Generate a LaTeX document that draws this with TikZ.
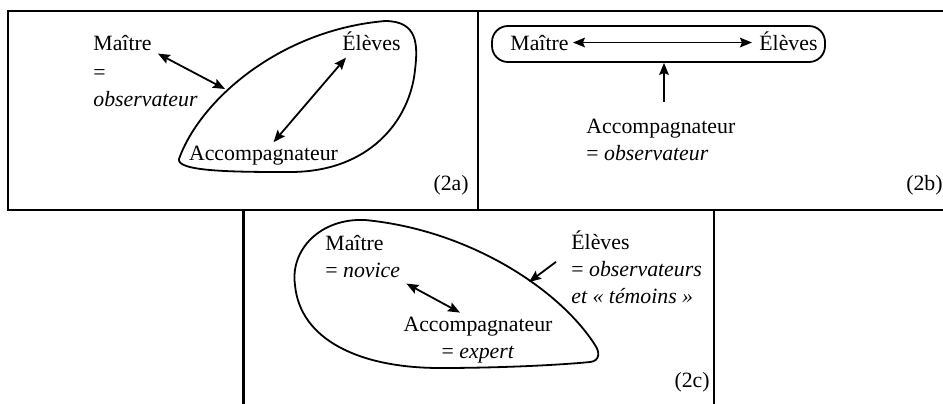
\documentclass[tikz,border=0pt]{standalone}
\usepackage{fontspec}
\setmainfont{Liberation Serif}
\usetikzlibrary{arrows.meta}

\begin{document}
\begin{tikzpicture}[
    x=0.5pt, y=-0.5pt,
    word/.style={inner sep=0pt, font=\fontsize{10.9}{13.5}\selectfont},
    frame/.style={draw, line width=1.1pt},
    blob/.style={draw, line width=0.9pt},
    arrow/.style={-{Stealth[length=6pt, width=4.8pt, inset=1pt]}, line width=0.9pt},
    biarrow/.style={{Stealth[length=6pt, width=4.8pt, inset=1pt]}-{Stealth[length=6pt, width=4.8pt, inset=1pt]}, line width=0.9pt}
]
    \useasboundingbox (0,0) rectangle (943,403);
    \clip (0,0) rectangle (943,403);

    % Frames
    \draw[frame] (8,11) rectangle (960,210);
    \draw[frame] (478,11) -- (478,210);
    \draw[frame] (243.5,210) rectangle (714,420);

    % Panel (2a)
    \draw[blob] (179,159) .. controls (200,100) and (280,30) .. (385,21)
        .. controls (418,21) and (418,45) .. (415,70)
        .. controls (410,120) and (370,172) .. (290,172)
        .. controls (240,172) and (176,172) .. (179,159) -- cycle;
    \node[word, anchor=base west] (maitreA) at (93,50) {Maître};
    \node[word, anchor=north west, align=left] (obsA) at (93,68.7) {=\\\textit{observateur}};
    \node[word, anchor=base west] (eleA) at (342,50) {Élèves};
    \node[word, anchor=base] (accA) at (263.5,160) {Accompagnateur};
    \node[word, anchor=base east] (tagA) at (469,190) {(2a)};
    \coordinate (touchA) at (225,89);
    \draw[biarrow] ([shift={(6,3)}]maitreA.south east) -- (touchA);
    \draw[biarrow] ([shift={(4,7)}]eleA.south west) -- ([shift={(10,-3)}]accA.north);

    % Panel (2b)
    \node[blob, rounded corners=8pt, minimum width=166.5pt, minimum height=18pt, inner sep=0pt] (boxB) at (658.5,44) {};
    \node[word, anchor=base west] (maitreB) at (510,50) {Maître};
    \node[word, anchor=base west] (eleB) at (759,50) {Élèves};
    \node[word, anchor=north west, align=left] (accB) at (586,118.6) {Accompagnateur\\= \textit{observateur}};
    \node[word, anchor=base east] (tagB) at (943,190) {(2b)};
    \coordinate (tailB) at (664,102);
    \draw[biarrow] ([xshift=2pt]maitreB.east) -- ([xshift=-3.5pt]maitreB.east -| eleB.west);
    \draw[arrow] (tailB) -- (tailB |- boxB.south);

    % Panel (2c)
    \draw[blob] (365,220) .. controls (320,218) and (290,250) .. (295,285)
        .. controls (300,340) and (360,368) .. (440,368)
        .. controls (500,368) and (560,365) .. (590,362)
        .. controls (600,361) and (600,352) .. (595,345)
        .. controls (560,290) and (470,230) .. (365,220) -- cycle;
    \node[word, anchor=north west, align=left] (maitreC) at (325,235.4) {Maître\\= \textit{novice}};
    \node[word, anchor=north west, align=left] (eleC) at (571,230) {Élèves\\= \textit{observateurs}\\\textit{et « témoins »}};
    \node[word, anchor=north, align=center] (accC) at (478,316.6) {Accompagnateur\\= \textit{expert}};
    \node[word, anchor=base east] (tagC) at (710,387) {(2c)};
    \coordinate (touchC) at (529,282);
    \draw[biarrow] ([shift={(6,5)}]maitreC.south east) -- ([shift={(-18,-4)}]accC.north);
    \draw[arrow] ([shift={(-15,-5)}]eleC.west) -- (touchC);
\end{tikzpicture}
\end{document}
